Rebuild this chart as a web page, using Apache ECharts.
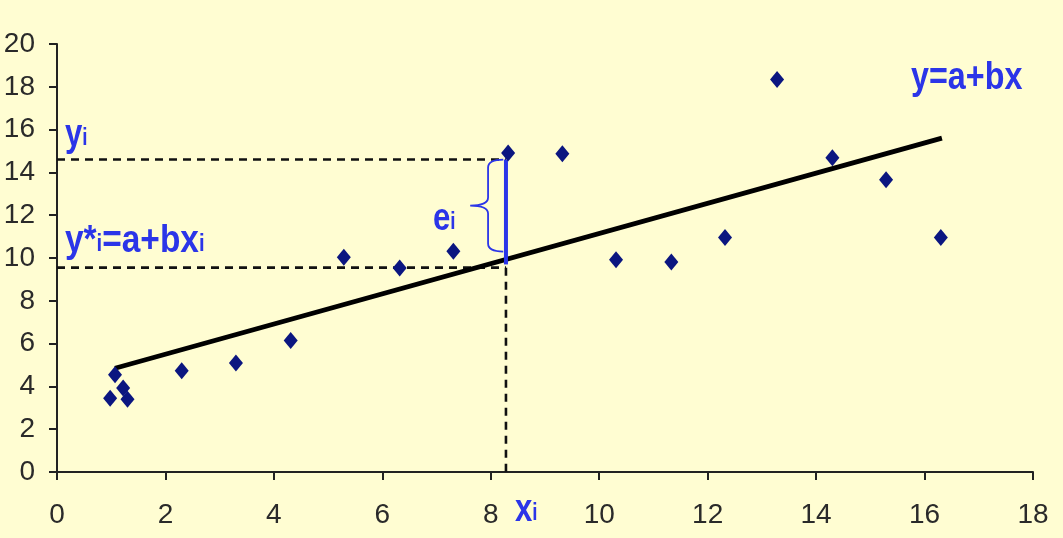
<!DOCTYPE html>
<html>
<head>
<meta charset="utf-8">
<script src="https://cdn.jsdelivr.net/npm/echarts@6/dist/echarts.min.js"></script>
<style>
html,body{margin:0;padding:0;background:#FFFDD2;}
#c{width:1063px;height:538px;}
</style>
</head>
<body>
<div id="c"></div>
<script>
// ---- data ----
const pointsX = [0.98, 1.07, 1.22, 1.30, 2.30, 3.30, 4.31, 5.29, 6.32, 7.31, 8.32, 9.32, 10.31, 11.33, 12.32, 13.28, 14.30, 15.29, 16.30];
const pointsY = [3.45, 4.54, 3.92, 3.40, 4.73, 5.09, 6.15, 10.04, 9.53, 10.31, 14.91, 14.87, 9.92, 9.81, 10.96, 18.34, 14.68, 13.66, 10.96];
const fitX = [1.07, 16.32];
const fitY = [4.85, 15.6];
const xi = 8.28;          // highlighted observation
const yiObs = 14.6;       // observed y_i
const yiFit = 9.55;       // fitted y*_i level (dashed)
const residTop = 14.6, residBottom = 9.7;
const braceTop = 14.6, braceMid = 12.45, braceBottom = 10.3;
const braceEndX = 8.23, braceSpineX = 7.95, braceTipX = 7.62;
const xTicks = [0, 2, 4, 6, 8, 10, 12, 14, 16, 18];
const yTicks = [0, 2, 4, 6, 8, 10, 12, 14, 16, 18, 20];

const BLUE = '#2B35E8';
const NAVY = '#0B1680';
const FONT = "'Liberation Sans', Arial, sans-serif";

const scatterData = pointsX.map((x, i) => [x, pointsY[i]]);
const fitData = fitX.map((x, i) => [x, fitY[i]]);

const chart = echarts.init(document.getElementById('c'), null, {renderer: 'canvas'});

const axisCommon = {
  type: 'value',
  interval: 2,
  axisLine: {show: true, lineStyle: {color: '#222', width: 2}},
  axisTick: {show: true, inside: false, length: 8, lineStyle: {color: '#222', width: 2}},
  splitLine: {show: false},
  axisLabel: {color: '#2a2a2a', fontSize: 28, fontFamily: FONT}
};

const richText = {
  b: {fontSize: 38, fontWeight: 'bold', fontFamily: FONT, fill: BLUE, verticalAlign: 'bottom', lineHeight: 44},
  s: {fontSize: 23, fontWeight: 'bold', fontFamily: FONT, fill: BLUE, verticalAlign: 'bottom', lineHeight: 44, padding: [0, 0, 5, 0]}
};
function label(text, x, y, sx) {
  return {type: 'text', x: x, y: y, scaleX: sx || 0.82, z: 10,
    style: {text: text, rich: richText, fill: BLUE, verticalAlign: 'top', align: 'left'}};
}

chart.setOption({
  backgroundColor: '#FFFDD2',
  animation: false,
  grid: {left: 57, right: 30, top: 44, bottom: 66, outerBoundsMode: 'none', containLabel: false},
  xAxis: Object.assign({}, axisCommon, {min: xTicks[0], max: xTicks[xTicks.length - 1],
    axisLabel: Object.assign({}, axisCommon.axisLabel, {margin: 29})}),
  yAxis: Object.assign({}, axisCommon, {min: yTicks[0], max: yTicks[yTicks.length - 1],
    axisLabel: Object.assign({}, axisCommon.axisLabel, {margin: 22})}),
  series: [
    { // dashed guides
      type: 'line', data: [[0, yiObs], [xi, yiObs]], symbol: 'none', silent: true,
      lineStyle: {color: '#111', width: 2.6, type: [8, 6]}, z: 2
    },
    {
      type: 'line', data: [[0, yiFit], [xi, yiFit]], symbol: 'none', silent: true,
      lineStyle: {color: '#111', width: 2.6, type: [8, 6]}, z: 2
    },
    {
      type: 'line', data: [[xi, yiFit], [xi, 0]], symbol: 'none', silent: true,
      lineStyle: {color: '#111', width: 2.6, type: [8, 6]}, z: 2
    },
    { // regression line
      type: 'line', data: fitData, symbol: 'none', silent: true,
      lineStyle: {color: '#000', width: 4.8}, z: 3
    },
    { // residual segment
      type: 'line', data: [[xi, residTop], [xi, residBottom]], symbol: 'none', silent: true,
      lineStyle: {color: BLUE, width: 4}, z: 4
    },
    { // brace
      type: 'custom', silent: true, z: 4,
      data: [[braceTop, braceMid, braceBottom]],
      renderItem: function (params, api) {
        const pTop = api.coord([braceEndX, braceTop]);
        const pSpineTop = api.coord([braceSpineX, braceTop]);
        const pMid = api.coord([braceSpineX, braceMid]);
        const pTip = api.coord([braceTipX, braceMid]);
        const pBot = api.coord([braceEndX, braceBottom]);
        const x0 = pTop[0], x1 = pSpineTop[0], xt = pTip[0];
        const yT = pTop[1], yM = pMid[1], yB = pBot[1];
        const r = 8;
        const d = `M${x0},${yT} Q${x1},${yT} ${x1},${yT + r} L${x1},${yM - r} Q${x1},${yM} ${xt},${yM} ` +
                  `Q${x1},${yM} ${x1},${yM + r} L${x1},${yB - r} Q${x1},${yB} ${x0},${yB}`;
        return {type: 'path', shape: {pathData: d}, style: {fill: 'none', stroke: BLUE, lineWidth: 1.8}};
      }
    },
    { // observations
      type: 'scatter', data: scatterData, symbol: 'diamond', symbolSize: [14, 17],
      itemStyle: {color: NAVY, opacity: 1}, z: 5
    }
  ],
  graphic: [
    label('{b|y}{s|i}', 65, 111),
    label('{b|y*}{s|i}{b|=a+bx}{s|i}', 65, 217, 0.88),
    label('{b|e}{s|i}', 433, 195),
    label('{b|x}{s|i}', 515, 486),
    label('{b|y=a+bx}', 911, 54, 0.85)
  ]
});
</script>
</body>
</html>
